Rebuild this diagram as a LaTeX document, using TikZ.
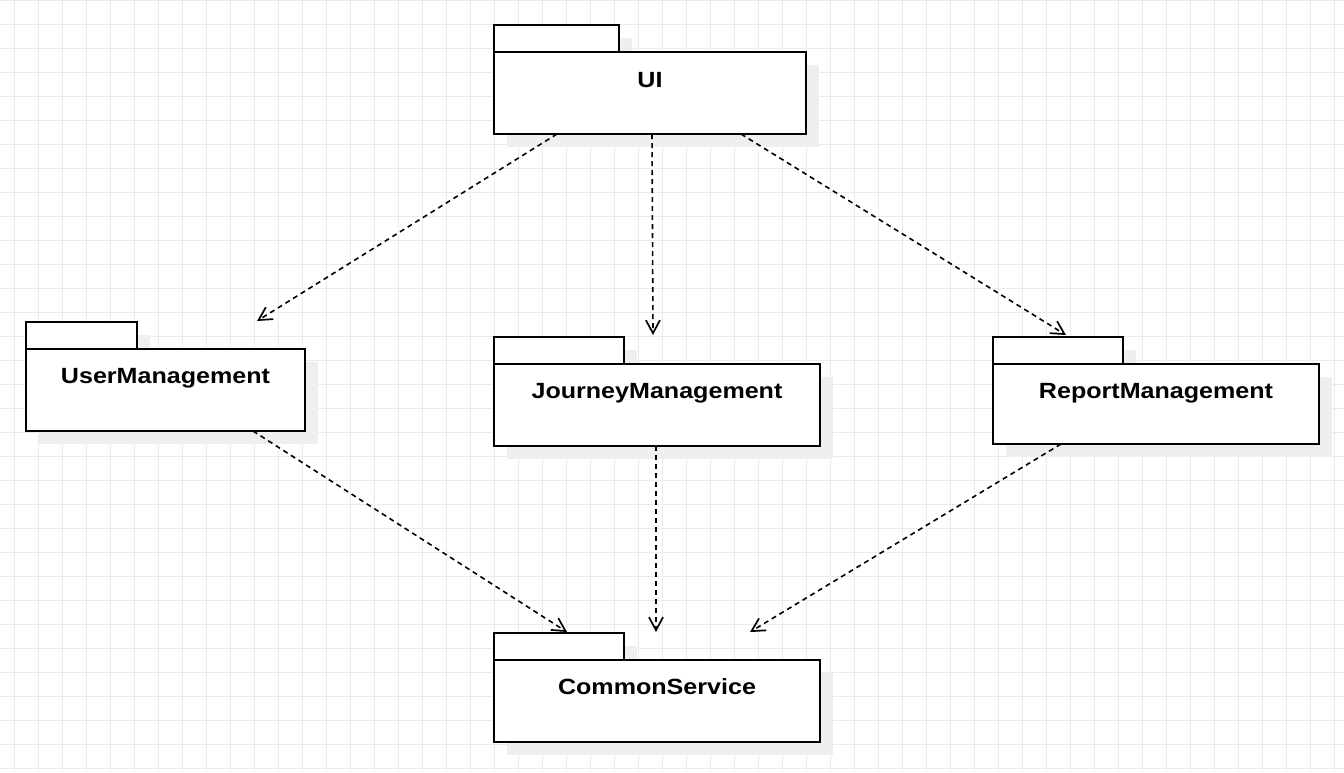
\documentclass[tikz,border=0pt]{standalone}
\usepackage{fontspec}
\setmainfont{Liberation Sans}[FakeStretch=1.14]
\usetikzlibrary{arrows.meta,calc}
\definecolor{gridc}{HTML}{EBEBEB}
\definecolor{shadowc}{HTML}{EFEFEF}
\tikzset{
  body/.style={draw=black, line width=1.7pt, fill=white, inner sep=0pt, outer sep=0pt, anchor=north west},
  tabbox/.style={draw=black, line width=1.7pt, fill=white},
  shad/.style={fill=shadowc, draw=none},
  lab/.style={font=\fontsize{22}{26}\selectfont\bfseries, anchor=base, inner sep=0pt},
  dep/.style={line width=1.6pt, dash pattern=on 5pt off 4pt,
    -{Straight Barb[length=13pt,width=14pt,line width=1.7pt]}}
}
% #1 name, #2 x1, #3 tab top, #4 tab right, #5 x2, #6 bottom, #7 text, #8 baseline offset
\newcommand{\mypkg}[8]{%
  \fill[shad] (#2+13,#3+13) rectangle (#4+13,#3+40);
  \fill[shad] (#2+13,#3+40) rectangle (#5+13,#6+13);
  \draw[tabbox] (#2,#3) rectangle (#4,#3+27);
  \node[body, minimum width={(#5-#2)*1pt}, minimum height={(#6-#3-27)*1pt}] (#1) at (#2,#3+27) {};
  \node[lab] (#1-t) at ($(#1.north)+(0,#8)$) {#7};
}
\begin{document}
\begin{tikzpicture}[x=1pt,y=-1pt]
\useasboundingbox (0,0) rectangle (1344,772);
\fill[white] (0,0) rectangle (1344,772);
\foreach \i in {0,...,55} {\draw[gridc, line width=0.8pt] (14+24*\i,0) -- (14+24*\i,772);}
\foreach \j in {0,...,32} {\draw[gridc, line width=0.8pt] (0,24*\j) -- (1344,24*\j);}

\mypkg{ui}{494}{25}{619}{806}{134}{UI}{35}
\mypkg{um}{26}{322}{137}{305}{431}{UserManagement}{34}
\mypkg{jm}{494}{337}{624}{820}{446}{JourneyManagement}{34}
\mypkg{rm}{993}{337}{1123}{1319}{444}{ReportManagement}{34}
\mypkg{cs}{494}{633}{624}{820}{742}{CommonService}{34}

\draw[dep] ([xshift=-93pt]ui.south) -- ($(um.north)+(91.5,-28)$);
\draw[dep] ([xshift=2pt]ui.south) -- ($(jm.north)+(-4,-29)$);
\draw[dep] ([xshift=91pt]ui.south) -- ($(rm.north)+(-90,-29)$);
\draw[dep] ([xshift=87.5pt]um.south) -- ($(cs.north)+(-90,-28)$);
\draw[dep] ([xshift=-1pt]jm.south) -- ($(cs.north)+(-1,-28)$);
\draw[dep] ([xshift=-95pt]rm.south) -- ($(cs.north)+(93,-28)$);
\end{tikzpicture}
\end{document}
